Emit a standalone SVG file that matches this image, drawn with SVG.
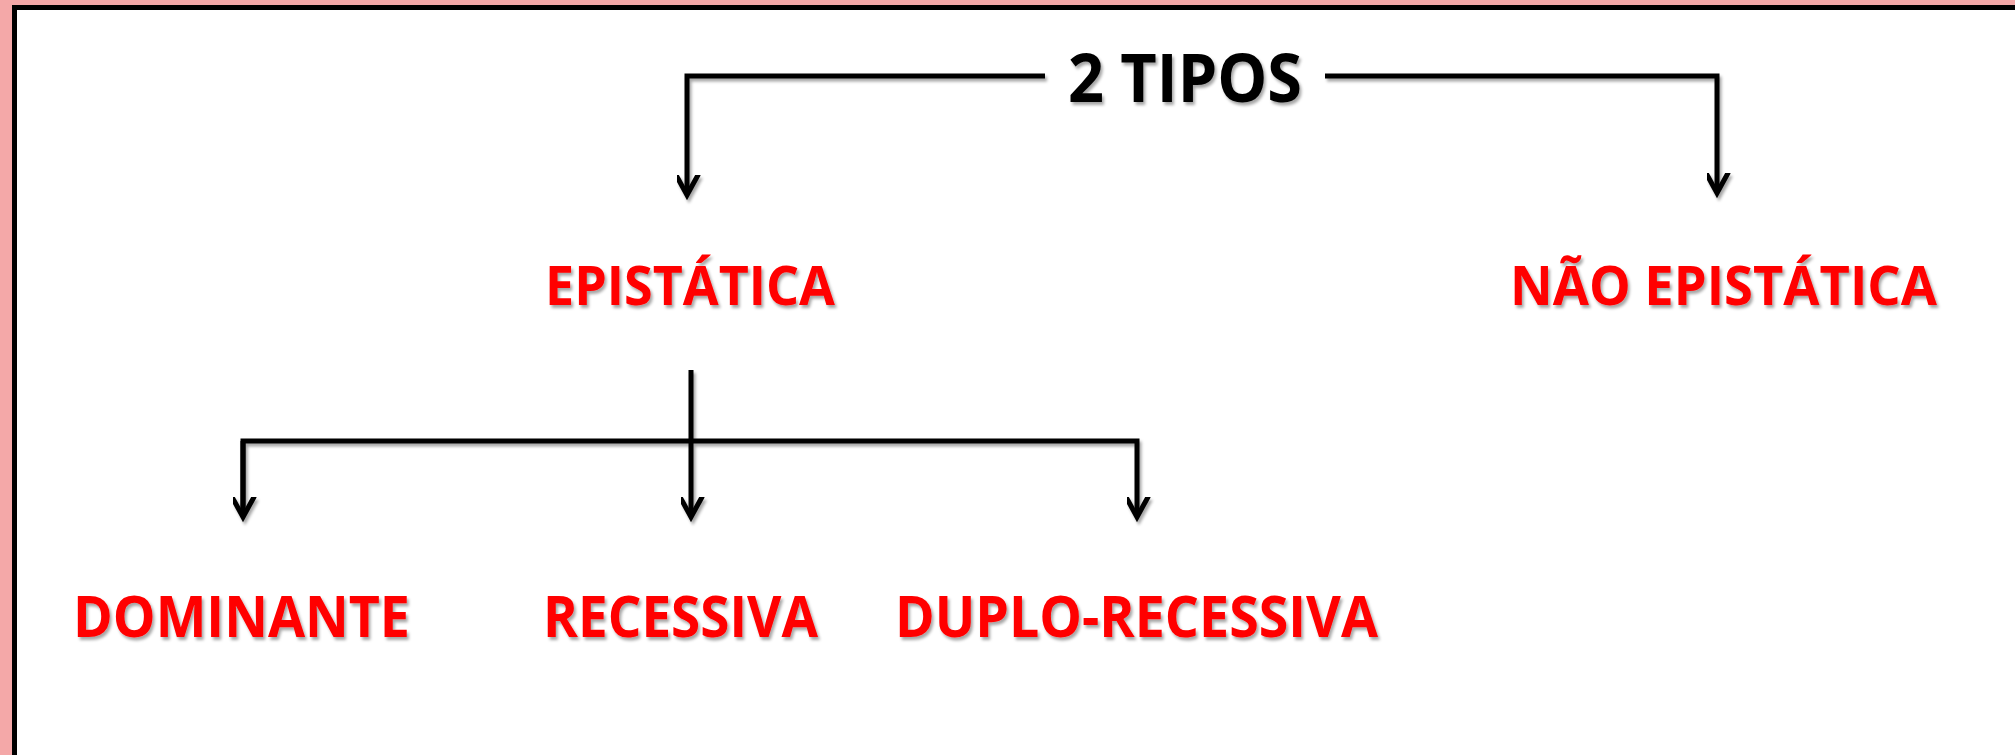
<svg xmlns="http://www.w3.org/2000/svg" width="2015" height="755" viewBox="0 0 2015 755">
  <defs>
    <filter id="sh" x="-10%" y="-30%" width="120%" height="160%">
      <feDropShadow dx="2" dy="3" stdDeviation="1.6" flood-color="#000" flood-opacity="0.35"/>
    </filter>
    <marker id="ah" markerUnits="userSpaceOnUse" markerWidth="40" markerHeight="40" viewBox="-20 -30 40 40" refX="0" refY="0" orient="auto">
      <path d="M-20,-11 L0,0 L-20,11" fill="none" stroke="#000" stroke-width="5" stroke-linejoin="miter" stroke-linecap="round"/>
    </marker>
    <style>
      .conn { fill: none; stroke: #000; stroke-width: 5; stroke-linejoin: miter; }
      .red { font-family: "Open Sans", "Liberation Sans", sans-serif; font-weight: bold; fill: #FF0000; }
      .blk { font-family: "Open Sans", "Liberation Sans", sans-serif; font-weight: bold; fill: #000; }
    </style>
  </defs>
  <rect x="0" y="0" width="2015" height="755" fill="#F4A8A8"/>
  <rect x="14.5" y="7.5" width="2040" height="800" fill="#FFFFFF" stroke="#000" stroke-width="5"/>

  <g id="connectors" filter="url(#sh)">
    <path class="conn" d="M1045,76 H687 V195" marker-end="url(#ah)"/>
    <path class="conn" d="M1325,76 H1717 V193" marker-end="url(#ah)"/>
    <path class="conn" d="M691,370 V517" marker-end="url(#ah)"/>
    <path class="conn" d="M243,517 V441 H1137 V517" marker-end="url(#ah)"/>
    <path class="conn" d="M243,441 V517" marker-end="url(#ah)"/>
  </g>

  <g id="node-2tipos" filter="url(#sh)">
    <text class="blk" x="1068" y="102" font-size="66" textLength="234" lengthAdjust="spacingAndGlyphs">2 TIPOS</text>
  </g>
  <g id="node-epistatica" filter="url(#sh)">
    <text class="red" x="545" y="305" font-size="53" textLength="290" lengthAdjust="spacingAndGlyphs">EPISTÁTICA</text>
  </g>
  <g id="node-nao-epistatica" filter="url(#sh)">
    <text class="red" x="1510" y="305" font-size="53" textLength="427" lengthAdjust="spacingAndGlyphs">NÃO EPISTÁTICA</text>
  </g>
  <g id="node-dominante" filter="url(#sh)">
    <text class="red" x="73" y="637" font-size="58" textLength="337" lengthAdjust="spacingAndGlyphs">DOMINANTE</text>
  </g>
  <g id="node-recessiva" filter="url(#sh)">
    <text class="red" x="543" y="637" font-size="58" textLength="275" lengthAdjust="spacingAndGlyphs">RECESSIVA</text>
  </g>
  <g id="node-duplo-recessiva" filter="url(#sh)">
    <text class="red" x="895" y="637" font-size="58" textLength="483" lengthAdjust="spacingAndGlyphs">DUPLO-RECESSIVA</text>
  </g>
</svg>
